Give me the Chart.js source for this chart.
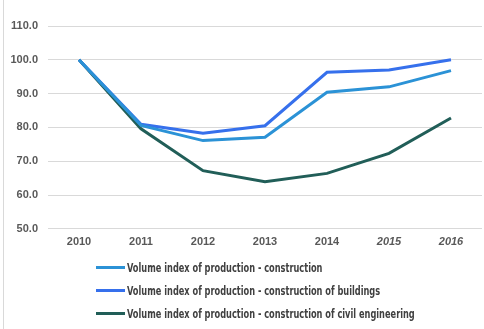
<!DOCTYPE html>
<html>
<head>
<meta charset="utf-8">
<script src="https://cdn.jsdelivr.net/npm/chart.js@4"></script>
<style>
  html, body { margin: 0; padding: 0; background: #fff; }
  #wrap { position: relative; width: 484px; height: 329px; overflow: hidden; }
  #frame { position: absolute; left: 3px; top: 0; width: 1px; height: 329px; background: #d9d9d9; }
  #box { position: absolute; left: 0; top: 0; width: 484px; height: 262px; }
  #legend { position: absolute; left: 96px; top: 256px; font: bold 11.5px "DejaVu Sans Condensed", sans-serif; color: #404040; }
  .item { height: 23px; display: flex; align-items: center; white-space: nowrap; }
  .swatch { width: 29px; height: 3px; margin-right: 2px; flex: none; }
  .text { display: inline-block; transform: scaleX(0.795); transform-origin: left center; }
</style>
</head>
<body>
<div id="wrap">
  <div id="frame"></div>
  <div id="box"><canvas id="chart"></canvas></div>
  <div id="legend"></div>
</div>
<script>
// Data
const years = ['2010', '2011', '2012', '2013', '2014', '2015', '2016'];
const construction = [100.0, 80.6, 76.1, 77.1, 90.4, 92.0, 96.8];
const buildings = [100.0, 80.9, 78.3, 80.5, 96.3, 97.0, 100.0];
const civilEngineering = [100.0, 79.6, 67.2, 63.9, 66.4, 72.3, 82.8];
const seriesNames = [
  'Volume index of production - construction',
  'Volume index of production - construction of buildings',
  'Volume index of production - construction of civil engineering'
];

const fontFamily = '"Liberation Sans", Arial, sans-serif';

function makeLine(label, data, color) {
  return {
    label,
    data,
    borderColor: color,
    backgroundColor: color,
    borderWidth: 3,
    pointRadius: 0,
    tension: 0,
    fill: false
  };
}

const chart = new Chart(document.getElementById('chart').getContext('2d'), {
  type: 'line',
  data: {
    labels: years,
    datasets: [
      makeLine(seriesNames[0], construction, '#2b92d6'),
      makeLine(seriesNames[1], buildings, '#3670ec'),
      makeLine(seriesNames[2], civilEngineering, '#215e58')
    ]
  },
  options: {
    responsive: true,
    maintainAspectRatio: false,
    animation: false,
    layout: { padding: { top: 26, right: 2, bottom: 6, left: 0 } },
    plugins: {
      legend: { display: false },
      tooltip: { enabled: false }
    },
    scales: {
      x: {
        offset: true,
        grid: { display: false, drawTicks: false },
        border: { display: false },
        ticks: {
          padding: 7,
          color: '#595959',
          font: ctx => ({
            family: fontFamily,
            size: 11,
            weight: 'bold',
            style: ctx.index >= 5 ? 'italic' : 'normal'
          })
        }
      },
      y: {
        min: 50,
        max: 110,
        afterFit: axis => { axis.width = 48; },
        grid: { color: '#d9d9d9', lineWidth: 1, drawTicks: false },
        border: { display: false },
        ticks: {
          stepSize: 10,
          padding: 10,
          color: '#595959',
          font: { family: fontFamily, size: 11, weight: 'bold' },
          callback: v => v.toFixed(1)
        }
      }
    }
  }
});

// Legend built from the chart's datasets
const legend = document.getElementById('legend');
chart.data.datasets.forEach(ds => {
  const row = document.createElement('div');
  row.className = 'item';
  const sw = document.createElement('span');
  sw.className = 'swatch';
  sw.style.background = ds.borderColor;
  const txt = document.createElement('span');
  txt.className = 'text';
  txt.textContent = ds.label;
  row.appendChild(sw);
  row.appendChild(txt);
  legend.appendChild(row);
});
</script>
</body>
</html>
